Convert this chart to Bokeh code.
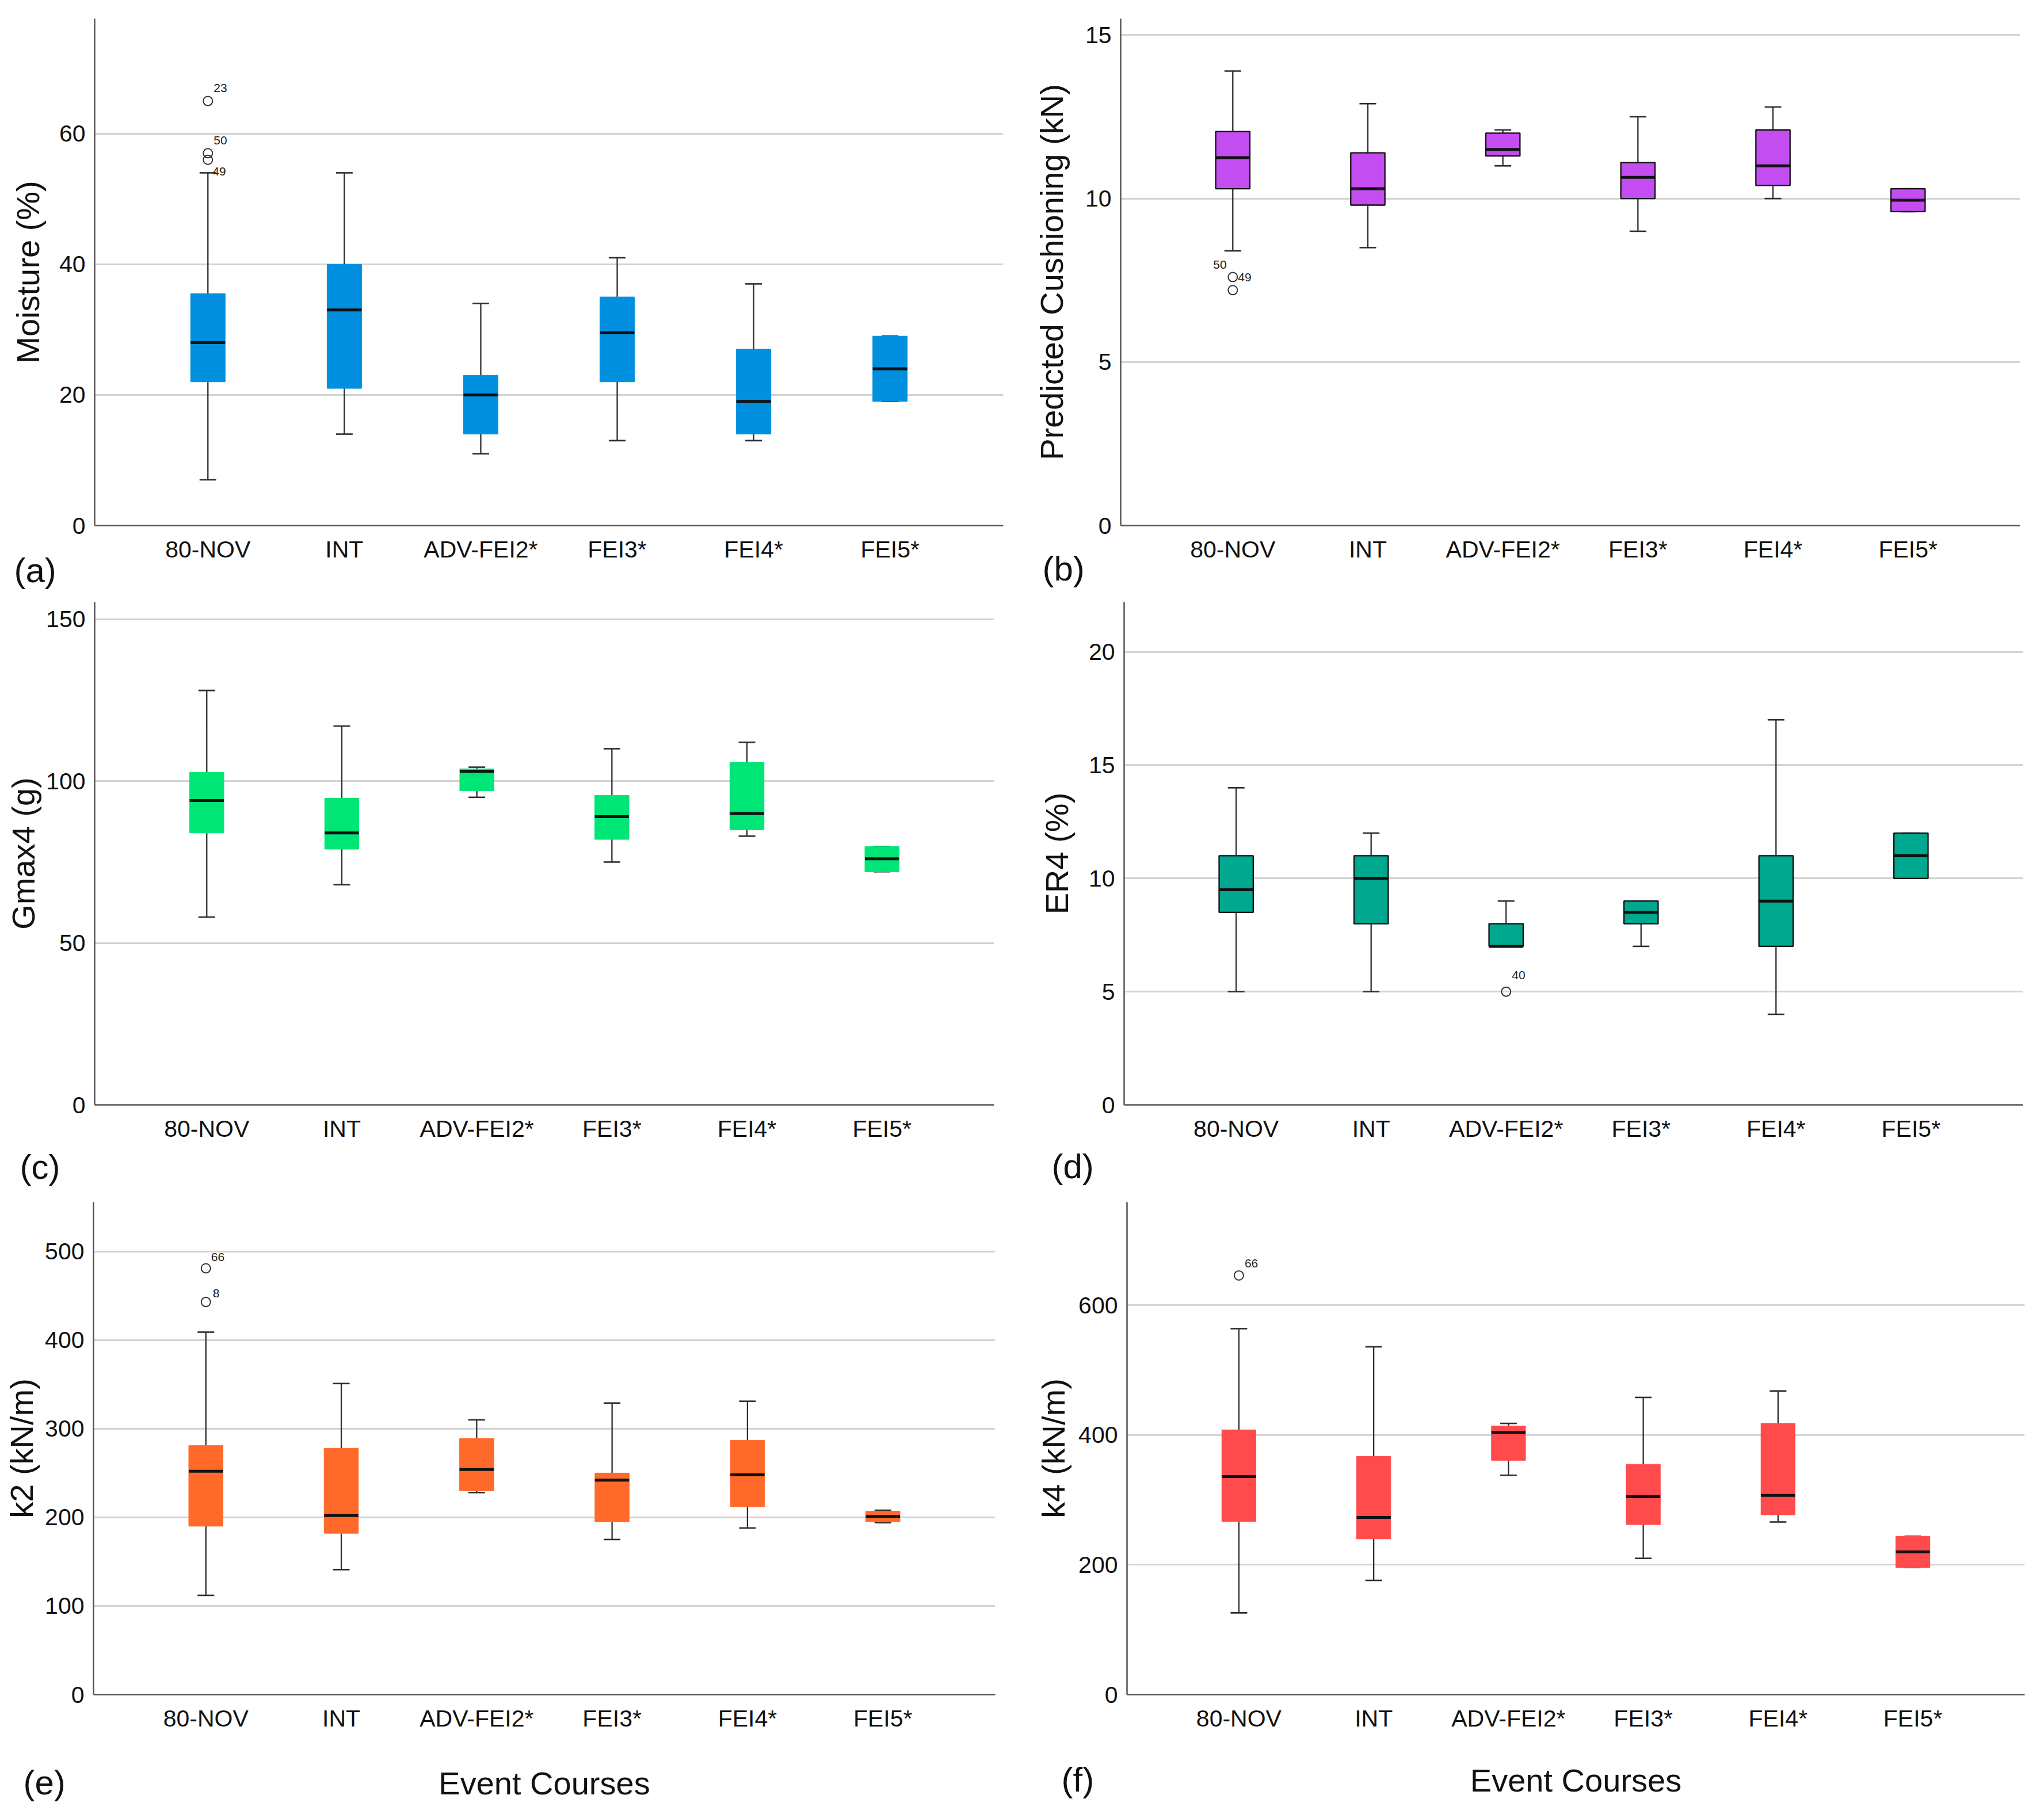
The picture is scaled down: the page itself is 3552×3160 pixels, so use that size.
import math
from bokeh.plotting import figure
from bokeh.models import Range1d, FixedTicker, Title, ColumnDataSource
from bokeh.layouts import column, row
from bokeh.embed import file_html
from bokeh.resources import INLINE
from bokeh.core.properties import value

# ---------------- data ----------------
categories = ["80-NOV", "INT", "ADV-FEI2*", "FEI3*", "FEI4*", "FEI5*"]

moisture_low = [7, 14, 11, 13, 13, 19]
moisture_q1 = [22, 21, 14, 22, 14, 19]
moisture_med = [28, 33, 20, 29.5, 19, 24]
moisture_q3 = [35.5, 40, 23, 35, 27, 29]
moisture_high = [54, 54, 34, 41, 37, 29]
moisture_out_cat = ["80-NOV", "80-NOV", "80-NOV"]
moisture_out_val = [65, 57, 56]
moisture_out_lbl = ["23", "50", "49"]

cushion_low = [8.4, 8.5, 11.0, 9.0, 10.0, 9.6]
cushion_q1 = [10.3, 9.8, 11.3, 10.0, 10.4, 9.6]
cushion_med = [11.25, 10.3, 11.5, 10.65, 11.0, 9.95]
cushion_q3 = [12.05, 11.4, 12.0, 11.1, 12.1, 10.3]
cushion_high = [13.9, 12.9, 12.1, 12.5, 12.8, 10.3]
cushion_out_cat = ["80-NOV", "80-NOV"]
cushion_out_val = [7.6, 7.2]
cushion_out_lbl = ["49", "50"]

gmax_low = [58, 68, 95, 75, 83, 72]
gmax_q1 = [84, 79, 97, 82, 85, 72]
gmax_med = [94, 84, 103, 89, 90, 76]
gmax_q3 = [102.7, 94.7, 103.8, 95.6, 105.8, 79.8]
gmax_high = [128, 117, 104.3, 110, 112, 79.8]

er4_low = [5, 5, 7, 7, 4, 10]
er4_q1 = [8.5, 8, 7, 8, 7, 10]
er4_med = [9.5, 10, 7, 8.5, 9, 11]
er4_q3 = [11, 11, 8, 9, 11, 12]
er4_high = [14, 12, 9, 9, 17, 12]
er4_out_cat = ["ADV-FEI2*"]
er4_out_val = [5]
er4_out_lbl = ["40"]

k2_low = [112, 141, 228, 175, 188, 194]
k2_q1 = [190, 182, 230, 195, 212, 195]
k2_med = [252, 202, 254, 242, 248, 201]
k2_q3 = [281, 278, 289, 250, 287, 207]
k2_high = [409, 351, 310, 329, 331, 208]
k2_out_cat = ["80-NOV", "80-NOV"]
k2_out_val = [481, 443]
k2_out_lbl = ["66", "8"]

k4_low = [126, 176, 338, 210, 266, 196]
k4_q1 = [267, 240, 361, 262, 277, 196]
k4_med = [336, 273, 404, 305, 307, 220]
k4_q3 = [408, 367, 414, 355, 418, 244]
k4_high = [564, 536, 418, 458, 468, 244]
k4_out_cat = ["80-NOV"]
k4_out_val = [646]
k4_out_lbl = ["66"]

x_title = "Event Courses"

# ---------------- styling ----------------
FONT = "Liberation Sans"
TICK_FS = "41px"
TITLE_FS = "56px"
LETTER_FS = "60px"
OUT_FS = "21px"
BOX_W = 0.253
CAP_PX = 29
AXIS_COLOR = "#555555"
GRID_COLOR = "#d3d3d3"
WHISKER_COLOR = "#2e2e2e"
X_START, X_END = 0.17, 6.83

FIG_W = 1768
ROW_H = [1037, 1035, 1072]
ROW_Y = [8, 1045, 2080]
COL_X = [8, 1776]


def make_panel(col, rown, frame, y_end, y_step, low, q1, med, q3, high,
               fill, outline, ylabel, ylabel_standoff, letter, letter_offset, letter_standoff,
               out_cat=None, out_val=None, out_lbl=None, out_offsets=None,
               xlabel_standoff=None):
    fx, fy = COL_X[col], ROW_Y[rown]
    fw, fh = FIG_W, ROW_H[rown]
    x0, y0, x1, y1 = frame
    p = figure(width=fw, height=fh, output_backend="svg", toolbar_location=None,
               x_range=Range1d(X_START, X_END), y_range=Range1d(0, y_end),
               min_border_left=x0 - fx, min_border_right=fx + fw - x1,
               min_border_top=y0 - fy, min_border_bottom=fy + fh - y1)
    p.outline_line_color = None
    p.background_fill_color = "white"
    p.border_fill_color = "white"

    xs = [i + 1 for i in range(len(categories))]
    p.xaxis.ticker = FixedTicker(ticks=xs)
    p.xaxis.major_label_overrides = {x: c for x, c in zip(xs, categories)}
    p.yaxis.ticker = FixedTicker(ticks=[v * y_step for v in range(int(y_end // y_step) + 1)])
    for ax in (p.xaxis[0], p.yaxis[0]):
        ax.axis_line_color = AXIS_COLOR
        ax.axis_line_width = 2.5
        ax.major_tick_line_color = None
        ax.minor_tick_line_color = None
        ax.major_tick_out = 0
        ax.major_tick_in = 0
        ax.major_label_text_font = FONT
        ax.major_label_text_font_size = TICK_FS
        ax.major_label_text_color = "#111111"
        ax.axis_label_text_font = FONT
        ax.axis_label_text_font_size = TITLE_FS
        ax.axis_label_text_font_style = "normal"
        ax.axis_label_text_color = "#111111"
    p.xaxis.major_label_standoff = 18
    p.yaxis.major_label_standoff = 16
    p.yaxis.axis_label = ylabel
    p.yaxis.axis_label_standoff = ylabel_standoff
    if xlabel_standoff is not None:
        p.xaxis.axis_label = x_title
        p.xaxis.axis_label_standoff = xlabel_standoff
    p.xgrid.grid_line_color = None
    p.ygrid.grid_line_color = GRID_COLOR
    p.ygrid.grid_line_width = 3

    src = ColumnDataSource(dict(x=xs, low=low, q1=q1, med=med, q3=q3, high=high))
    p.segment(x0="x", y0="low", x1="x", y1="q1", source=src, line_color=WHISKER_COLOR, line_width=2.3)
    p.segment(x0="x", y0="q3", x1="x", y1="high", source=src, line_color=WHISKER_COLOR, line_width=2.3)
    p.scatter(x="x", y="low", source=src, marker="dash", size=CAP_PX, line_color=WHISKER_COLOR, line_width=2.6)
    p.scatter(x="x", y="high", source=src, marker="dash", size=CAP_PX, line_color=WHISKER_COLOR, line_width=2.6)
    if outline:
        p.vbar(x="x", width=BOX_W, bottom="q1", top="q3", source=src, fill_color=fill,
               line_color="#111111", line_width=2.3)
    else:
        p.vbar(x="x", width=BOX_W, bottom="q1", top="q3", source=src, fill_color=fill,
               line_color=fill, line_width=1)
    p.rect(x="x", y="med", width=BOX_W, height=5, height_units="screen", source=src,
           fill_color="#111111", line_color=None)

    if out_val:
        ox = [categories.index(c) + 1 for c in out_cat]
        osrc = ColumnDataSource(dict(x=ox, y=out_val, t=out_lbl,
                                     dx=[o[0] for o in out_offsets], dy=[o[1] for o in out_offsets]))
        p.scatter(x="x", y="y", source=osrc, marker="circle", size=16, fill_alpha=0,
                  line_color="#333333", line_width=2)
        p.text(x="x", y="y", text="t", source=osrc, x_offset="dx", y_offset="dy",
               text_font=value(FONT), text_font_size=OUT_FS, text_color="#222222",
               text_align="left", text_baseline="middle")

    p.add_layout(Title(text=letter, align="left", vertical_align="top", offset=letter_offset,
                       standoff=letter_standoff, text_font=FONT, text_font_size=LETTER_FS,
                       text_font_style="normal", text_color="#111111"), "below")
    return p


pa = make_panel(0, 0, (172, 39, 1751, 921), 77.6, 20,
                moisture_low, moisture_q1, moisture_med, moisture_q3, moisture_high,
                "#0090DF", False, "Moisture (%)", 20, "(a)", -140, -46,
                moisture_out_cat, moisture_out_val, moisture_out_lbl,
                [(10, -23), (10, -22), (8, 20)])
pb = make_panel(1, 0, (1955, 40, 3518, 922), 15.5, 5,
                cushion_low, cushion_q1, cushion_med, cushion_q3, cushion_high,
                "#C44DF2", True, "Predicted Cushioning (kN)", 24, "(b)", -136, -52,
                cushion_out_cat, cushion_out_val, cushion_out_lbl,
                [(9, 0), (-34, -44)])
pc = make_panel(0, 1, (172, 1054, 1735, 1934), 155.3, 50,
                gmax_low, gmax_q1, gmax_med, gmax_q3, gmax_high,
                "#00E676", False, "Gmax4 (g)", 5, "(c)", -130, 14)
pd = make_panel(1, 1, (1961, 1047, 3523, 1928), 22.2, 5,
                er4_low, er4_q1, er4_med, er4_q3, er4_high,
                "#00A88F", True, "ER4 (%)", 21, "(d)", -126, 12,
                er4_out_cat, er4_out_val, er4_out_lbl, [(10, -29)])
pe = make_panel(0, 2, (170, 2092, 1737, 2953), 555.7, 100,
                k2_low, k2_q1, k2_med, k2_q3, k2_high,
                "#FF6A2A", False, "k2 (kN/m)", 6, "(e)", -122, -138,
                k2_out_cat, k2_out_val, k2_out_lbl, [(9, -20), (12, -15)],
                xlabel_standoff=55)
pf = make_panel(1, 2, (1966, 2097, 3526, 2958), 759, 200,
                k4_low, k4_q1, k4_med, k4_q3, k4_high,
                "#FF4B4B", False, "k4 (kN/m)", 9, "(f)", -114, -138,
                k4_out_cat, k4_out_val, k4_out_lbl, [(10, -21)],
                xlabel_standoff=50)

layout = column(row(pa, pb), row(pc, pd), row(pe, pf))
open("out.html", "w").write(file_html(layout, INLINE))
